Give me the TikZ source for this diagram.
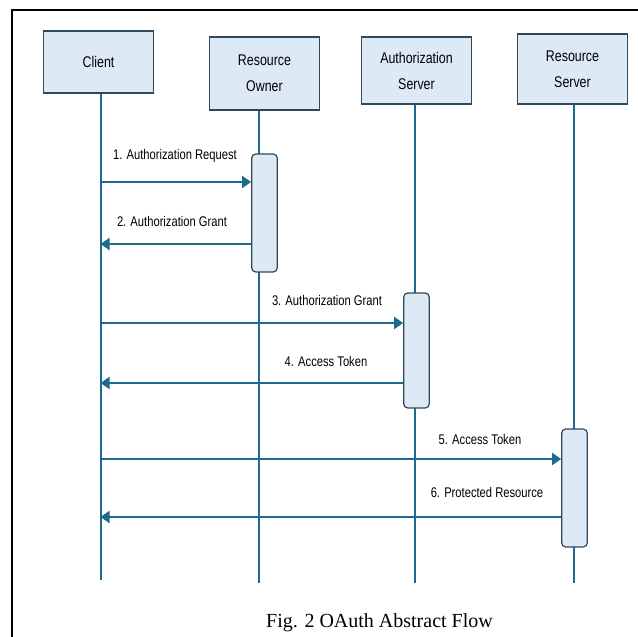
\documentclass[tikz,border=0pt]{standalone}
\usepackage{fontspec}
\setmainfont{Liberation Serif}
\newfontfamily\lbl[FakeStretch=0.8]{Liberation Sans}
\usetikzlibrary{arrows.meta}
\definecolor{lifec}{HTML}{1E6A8E}
\definecolor{boxfill}{HTML}{DDEAF6}
\definecolor{boxdraw}{HTML}{2E4A5A}
\tikzset{
  actor/.style={draw=boxdraw, line width=1.2pt, fill=boxfill, minimum width=110pt, align=center, inner sep=0pt, font={\lbl\fontsize{15.5}{26}\selectfont}},
  actbox/.style={draw=boxdraw, line width=1.2pt, fill=boxfill, rounded corners=4pt, minimum width=25.5pt, inner sep=0pt},
  life/.style={draw=lifec, line width=2pt},
  msg/.style={draw=lifec, line width=2pt, -{Triangle[length=9pt,width=12pt]}},
  msglbl/.style={font={\lbl\fontsize{14}{16}\selectfont}, inner sep=0pt},
}
\begin{document}
\begin{tikzpicture}[x=1pt,y=-1pt]
\useasboundingbox (0,0) rectangle (638,637);
% frame
\draw[line width=2pt] (11.7,637) -- (11.7,10) -- (638,10);
% actor boxes
\node[actor, minimum height=62pt] (client) at (98.5,62) {Client};
\node[actor, minimum height=73pt] (ro) at (264.5,73.5) {Resource\\Owner};
\node[actor, minimum height=67pt] (as) at (416.5,70.5) {Authorization\\Server};
\node[actor, minimum height=70pt] (rs) at (572.5,69) {Resource\\Server};
% lifeline ends
\coordinate (ce) at (100.5,580);
\coordinate (roe) at (259,583);
\coordinate (ase) at (414.5,583);
\coordinate (rse) at (574,583);
\draw[life] (client.south -| ce) -- (ce);
\draw[life] (ro.south -| roe) -- (roe);
\draw[life] (as.south -| ase) -- (ase);
\draw[life] (rs.south -| rse) -- (rse);
% activation boxes
\node[actbox, minimum height=118pt] (roa) at (264.5,213) {};
\node[actbox, minimum height=115pt] (asa) at (416.5,350.5) {};
\node[actbox, minimum height=118pt] (rsa) at (574.5,488) {};
% message rows
\coordinate (m1) at (100.5,182);
\coordinate (m2) at (100.5,244);
\coordinate (m3) at (100.5,323);
\coordinate (m4) at (100.5,383);
\coordinate (m5) at (100.5,459);
\coordinate (m6) at (100.5,517);
\draw[msg] (m1) -- (roa.west |- m1);
\draw[msg] (roa.west |- m2) -- (m2);
\draw[msg] (m3) -- (asa.west |- m3);
\draw[msg] (asa.west |- m4) -- (m4);
\draw[msg] (m5) -- (rsa.west |- m5);
\draw[msg] (rsa.west |- m6) -- (m6);
% labels
\node[msglbl] (l1) at (175,156) {1. Authorization Request};
\node[msglbl] (l2) at (172,221) {2. Authorization Grant};
\node[msglbl] (l3) at (327,300) {3. Authorization Grant};
\node[msglbl] (l4) at (326,361) {4. Access Token};
\node[msglbl] (l5) at (480,439) {5. Access Token};
\node[msglbl] (l6) at (487,492) {6. Protected Resource};
% caption
\node[font={\fontsize{20}{24}\selectfont}, inner sep=0pt, anchor=base] (cap) at (379.5,627) {Fig. 2 OAuth Abstract Flow};
\end{tikzpicture}
\end{document}
